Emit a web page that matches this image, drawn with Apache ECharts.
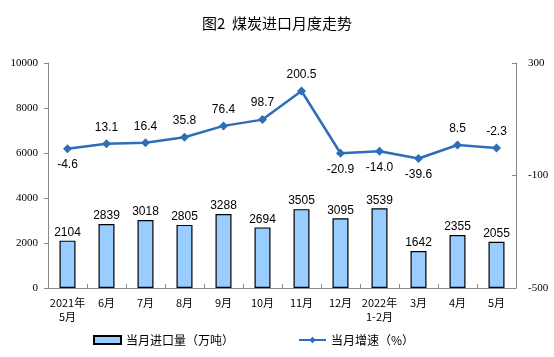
<!DOCTYPE html>
<html><head><meta charset="utf-8">
<script src="https://cdn.jsdelivr.net/npm/echarts@6/dist/echarts.min.js"></script>
<style>html,body{margin:0;padding:0;background:#fff}#c{width:554px;height:357px}</style>
</head><body><div id="c"></div>
<script>
var categories = ['2021年\n5月','6月','7月','8月','9月','10月','11月','12月','2022年\n1-2月','3月','4月','5月'];
var importVolume = [2104,2839,3018,2805,3288,2694,3505,3095,3539,1642,2355,2055];
var growthRate = [-4.6,13.1,16.4,35.8,76.4,98.7,200.5,-20.9,-14.0,-39.6,8.5,-2.3];
var labelBelow = [true,false,false,false,false,false,false,true,true,true,false,false];
var leftTicks = {min:0,max:10000,interval:2000};
var rightTicks = {min:-500,max:300,interval:400};

var chart = echarts.init(document.getElementById('c'));
var axisLine = {show:true,lineStyle:{color:'#888',width:1}};
chart.setOption({
  animation:false,
  backgroundColor:'#fff',
  title:{text:'图2  煤炭进口月度走势',left:'center',top:11,textStyle:{fontFamily:'Noto Sans CJK SC',fontSize:15,fontWeight:'normal',color:'#000'}},
  grid:{left:48,right:38,top:63,bottom:69},
  legend:{bottom:6,left:88,itemGap:64,itemWidth:27,itemHeight:8,
    textStyle:{fontFamily:'Noto Sans CJK SC',fontSize:12,color:'#000'},
    data:[{name:'当月进口量（万吨）',icon:'rect',itemStyle:{borderWidth:2}},{name:'当月增速（%）'}]},
  xAxis:{type:'category',data:categories,axisLine:axisLine,
    axisTick:{show:true,inside:true,length:4,lineStyle:{color:'#888'}},
    axisLabel:{fontFamily:'Noto Sans CJK SC',fontSize:11,color:'#000',margin:8,lineHeight:14,interval:0}},
  yAxis:[
    {type:'value',min:leftTicks.min,max:leftTicks.max,interval:leftTicks.interval,splitLine:{show:false},
     axisLine:axisLine,axisTick:{show:true,length:4,lineStyle:{color:'#888'}},
     axisLabel:{fontFamily:'Liberation Serif',fontSize:11,color:'#000',margin:10,formatter:function(v){return String(v);}}},
    {type:'value',min:rightTicks.min,max:rightTicks.max,interval:rightTicks.interval,splitLine:{show:false},
     axisLine:axisLine,axisTick:{show:true,inside:true,length:4,lineStyle:{color:'#888'}},
     axisLabel:{fontFamily:'Liberation Serif',fontSize:11,color:'#000',margin:12,formatter:function(v){return String(v);}}}
  ],
  series:[
    {name:'当月进口量（万吨）',type:'bar',data:importVolume,barWidth:16,
     itemStyle:{color:'#99CCFF',borderColor:'#000',borderWidth:1.2},
     label:{show:true,position:'top',distance:2,fontFamily:'Liberation Sans',fontSize:12,color:'#000'}},
    {name:'当月增速（%）',type:'line',yAxisIndex:1,
     data:growthRate.map(function(v,i){return {value:v,label:{position:labelBelow[i]?'bottom':'top'}};}),
     symbol:'diamond',symbolSize:9,lineStyle:{color:'#2E6DB8',width:2.5},itemStyle:{color:'#2E6DB8'},
     label:{show:true,distance:6,fontFamily:'Liberation Sans',fontSize:12,color:'#000',
       formatter:function(p){return p.value.toFixed(1);}}}
  ]
});
</script></body></html>
